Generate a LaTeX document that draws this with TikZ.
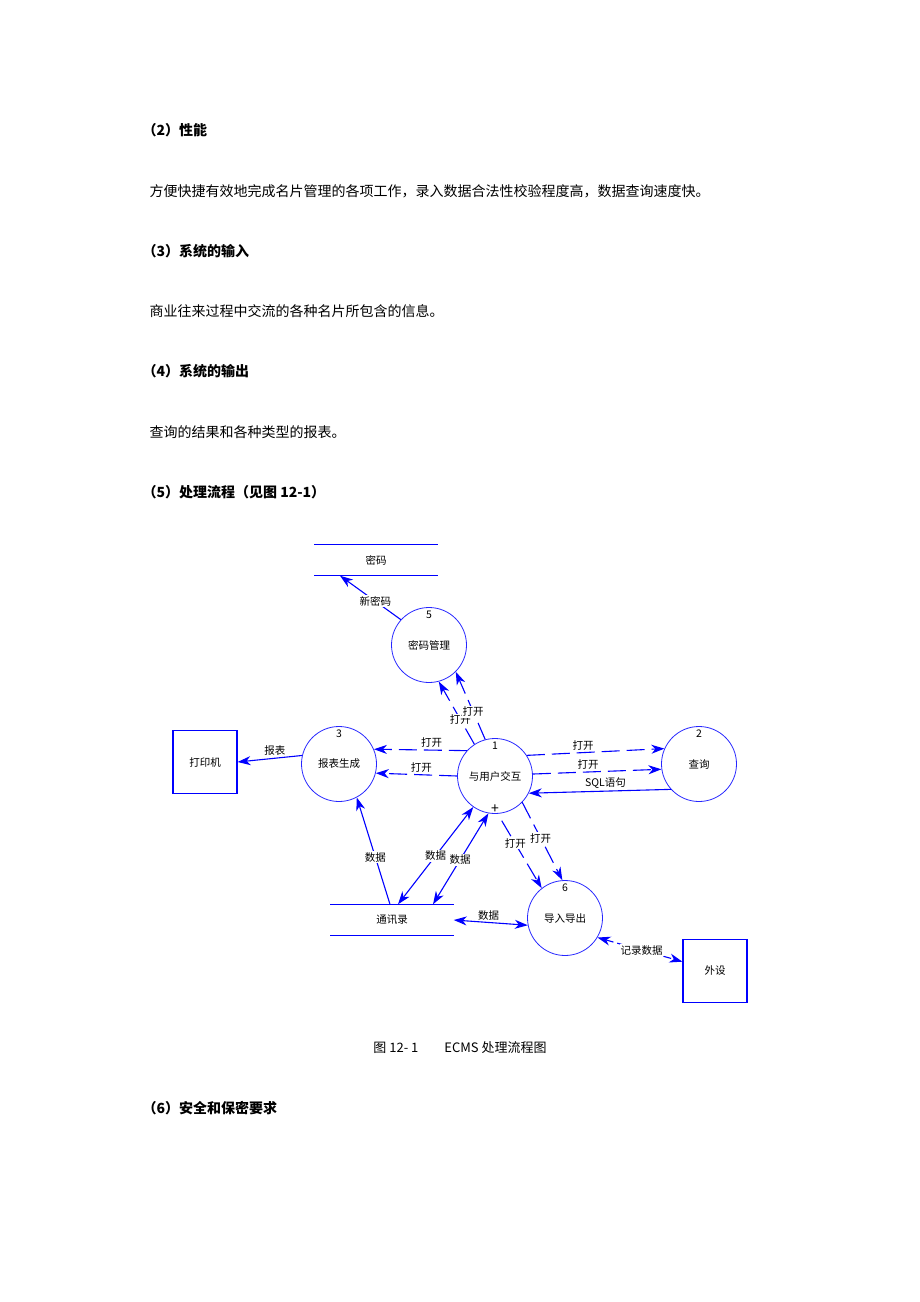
\documentclass[tikz,border=0pt]{standalone}
\usepackage{fontspec}
\setmainfont{Noto Sans CJK SC}
\usetikzlibrary{arrows.meta}

\begin{document}
\begin{tikzpicture}[x=1pt, y=-1pt,
  >={Stealth[length=13pt, width=9pt, inset=4pt]},
  every node/.style={font=\fontsize{10.5}{12}\selectfont},
  proc/.style={circle, draw=blue!85!white, line width=0.8pt, minimum size=75pt, inner sep=0pt},
  entity/.style={rectangle, draw=blue, line width=1.1pt, minimum width=64pt, minimum height=63pt},
  store/.style={minimum width=123pt, minimum height=31pt, inner sep=0pt},
  storeline/.style={draw=blue, line width=1.1pt},
  num/.style={anchor=north, inner sep=3.5pt},
  flow/.style={draw=blue, line width=1.1pt, ->},
  flow2/.style={draw=blue, line width=1.1pt, <->},
  ctl/.style={flow, dash pattern=on 18pt off 7pt},
  lbl/.style={fill=white, inner sep=1pt},
  lblup/.style={above, inner sep=2pt},
  heading/.style={anchor=west, font=\fontsize{14}{16}\selectfont\bfseries},
  body/.style={anchor=west, font=\fontsize{14}{16}\selectfont}]
  \useasboundingbox (0,0) rectangle (920,1302);

  % text of the page
  \node[heading] (h2) at (139,130) {（2）性能};
  \node[body] (t2) at (146,191) {方便快捷有效地完成名片管理的各项工作，录入数据合法性校验程度高，数据查询速度快。};
  \node[heading] (h3) at (139,251) {（3）系统的输入};
  \node[body] (t3) at (146,311) {商业往来过程中交流的各种名片所包含的信息。};
  \node[heading] (h4) at (139,371) {（4）系统的输出};
  \node[body] (t4) at (146,432) {查询的结果和各种类型的报表。};
  \node[heading] (h5) at (139,492) {（5）处理流程（见图 12-1）};
  \node[font=\fontsize{13}{15}\selectfont] (cap) at (460,1048) {图 12- 1\hspace{2em}ECMS 处理流程图};
  \node[heading] (h6) at (139,1108) {（6）安全和保密要求};

  % processes, entities and stores
  \node[store] (pw) at (376,560) {密码};
  \node[proc, label={[num]north:5}] (p5) at (429,645) {密码管理};
  \node[proc, label={[num]north:3}] (p3) at (339,764) {报表生成};
  \node[proc, label={[num]north:1},
        label={[num, anchor=south, inner sep=0pt, font=\fontsize{14}{14}\selectfont]south:+}] (p1) at (495,776) {与用户交互};
  \node[proc, label={[num]north:2}] (p2) at (699,764) {查询};
  \node[proc, label={[num]north:6}] (p6) at (565,918) {导入导出};
  \node[entity] (prn) at (205,762) {打印机};
  \node[entity] (dev) at (715,971) {外设};
  \node[store] (addr) at (392,920) {通讯录};
  \draw[storeline] (pw.north west) -- (pw.north east) (pw.south west) -- (pw.south east);
  \draw[storeline] (addr.north west) -- (addr.north east) (addr.south west) -- (addr.south east);

  % data flows
  \path (p5.138) edge[flow] node[lbl, pos=0.42] {新密码} ([xshift=-36pt]pw.south);
  \path (p3.167) edge[flow] node[lblup, pos=0.42] {报表} (prn.east);
  \path (p1.138) edge[ctl] node[lblup, pos=0.38] {打开} (p3.23);
  \path (p1.180) edge[ctl] node[lblup, pos=0.44] {打开} (p3.-14);
  \path (p1.33) edge[ctl] node[lblup, pos=0.41] {打开} (p2.156);
  \path (p1.3) edge[ctl] node[lblup, pos=0.43] {打开} (p2.188);
  \path (p2.222) edge[flow] node[lblup, pos=0.46] {SQL语句} (p1.-27);
  \path (p1.123) edge[ctl] node[lbl, pos=0.39] {打开} (p5.-75);
  \path (p1.105) edge[ctl] node[lbl, pos=0.41] {打开} (p5.-45);
  \path (p1.-86) edge[ctl, shorten <=8pt] node[lbl, pos=0.4] {打开} (p6.128);
  \path (p1.-44) edge[ctl] node[lbl, pos=0.46] {打开} (p6.94);
  \path ([xshift=-2pt]addr.north) edge[flow] node[lbl, pos=0.44] {数据} (p3.-62);
  \path ([xshift=6pt]addr.north) edge[flow2] node[lbl, pos=0.5] {数据} (p1.-125);
  \path ([xshift=41pt]addr.north) edge[flow2] node[lbl, pos=0.49] {数据} (p1.-100);
  \path (addr.east) edge[flow2] node[lblup, pos=0.47] {数据} (p6.191);
  \path (p6.-31) edge[flow2, dash pattern=on 8pt off 4pt] node[lbl, pos=0.52] {记录数据} (dev.164);
\end{tikzpicture}
\end{document}
